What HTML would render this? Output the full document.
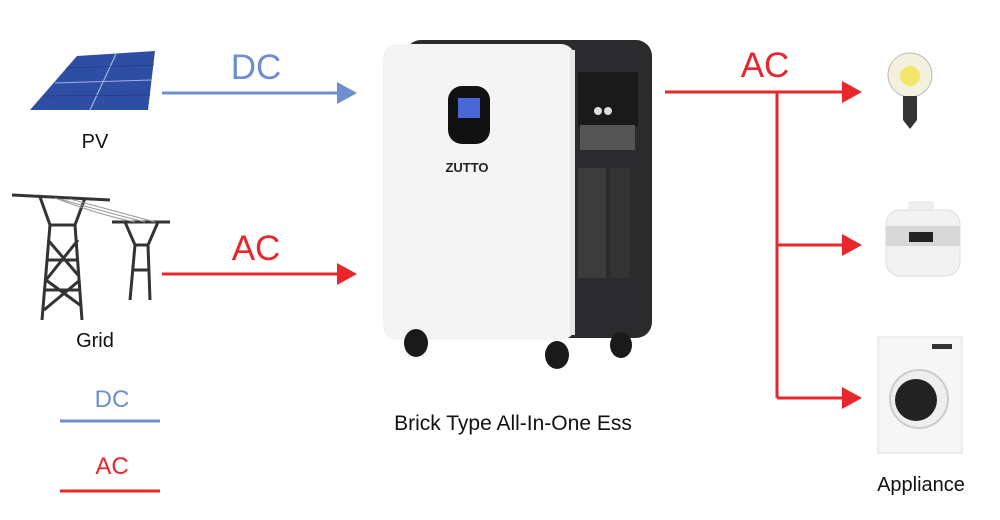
<!DOCTYPE html>
<html><head><meta charset="utf-8"><style>
html,body{margin:0;padding:0;background:#fff;width:1000px;height:520px;overflow:hidden}
svg{display:block}
text{font-family:"Liberation Sans",sans-serif}
</style></head><body>
<svg width="1000" height="520" viewBox="0 0 1000 520" xmlns="http://www.w3.org/2000/svg">
<rect width="1000" height="520" fill="#fff"/>
<!-- PV panel -->
<polygon points="77,56 155,51 148,110 30,110" fill="#2e4ea3"/>
<line x1="116" y1="54" x2="90" y2="110" stroke="#9fb3df" stroke-width="1.2"/>
<line x1="55" y1="83" x2="152" y2="80" stroke="#9fb3df" stroke-width="1"/>
<g stroke="#1d3580" stroke-width="0.6">
<line x1="66" y1="68" x2="154" y2="65"/><line x1="44" y1="96" x2="150" y2="95"/>
</g>
<text x="95" y="148" font-size="20" text-anchor="middle" fill="#111">PV</text>
<!-- DC arrow -->
<line x1="162" y1="93" x2="342" y2="93" stroke="#6d8fd0" stroke-width="3"/>
<polygon points="337,82 357,93 337,104" fill="#6d8fd0"/>
<text x="256" y="79" font-size="35" text-anchor="middle" fill="#6d8fd0">DC</text>
<!-- Grid towers -->
<g stroke="#333" stroke-width="3" fill="none">
<line x1="12" y1="195" x2="110" y2="200"/>
<path d="M40,197 L50,225 L42,320 M85,198 L75,225 L82,320 M50,225 L75,225 M48,260 L78,260 M45,290 L80,290"/>
<path d="M48,240 L78,275 M78,240 L46,280 M46,280 L80,305 M80,280 L44,310"/>
<line x1="112" y1="222" x2="170" y2="222"/>
<path d="M125,222 L135,245 L130,300 M158,222 L148,245 L150,300 M135,245 L148,245 M132,270 L150,270"/>
</g>
<g stroke="#999" stroke-width="1" fill="none">
<path d="M55,198 Q100,215 135,222"/><path d="M60,199 Q105,212 145,222"/><path d="M70,199 Q110,210 155,222"/>
</g>
<text x="95" y="347" font-size="20" text-anchor="middle" fill="#111">Grid</text>
<!-- AC in arrow -->
<line x1="162" y1="274" x2="342" y2="274" stroke="#e8262b" stroke-width="3"/>
<polygon points="337,263 357,274 337,285" fill="#e8262b"/>
<text x="256" y="260" font-size="35" text-anchor="middle" fill="#e8262b">AC</text>
<!-- Legend -->
<text x="112" y="407" font-size="24" text-anchor="middle" fill="#6d8fd0">DC</text>
<line x1="60" y1="421" x2="160" y2="421" stroke="#6d8fd0" stroke-width="3"/>
<text x="112" y="474" font-size="24" text-anchor="middle" fill="#e8262b">AC</text>
<line x1="60" y1="491" x2="160" y2="491" stroke="#e8262b" stroke-width="3"/>
<!-- Device -->
<rect x="405" y="40" width="247" height="298" rx="16" fill="#2b2b2d"/>
<rect x="383" y="44" width="192" height="296" rx="14" fill="#f4f4f4"/>
<rect x="570" y="50" width="5" height="285" fill="#e6e6e6"/>
<rect x="578" y="72" width="60" height="55" fill="#1a1a1a"/>
<circle cx="598" cy="111" r="4" fill="#ddd"/><circle cx="608" cy="111" r="4" fill="#ddd"/>
<rect x="580" y="125" width="55" height="25" fill="#555"/>
<rect x="578" y="168" width="28" height="110" fill="#3c3c3c"/>
<rect x="610" y="168" width="20" height="110" fill="#333"/>
<rect x="448" y="86" width="42" height="58" rx="14" fill="#111"/>
<rect x="458" y="98" width="22" height="20" fill="#4a67d8"/>
<text x="467" y="172" font-size="13" font-weight="bold" text-anchor="middle" fill="#222">ZUTTO</text>
<g fill="#1a1a1a">
<ellipse cx="416" cy="343" rx="12" ry="14"/><ellipse cx="557" cy="355" rx="12" ry="14"/><ellipse cx="621" cy="345" rx="11" ry="13"/>
</g>
<text x="513" y="430" font-size="21" text-anchor="middle" fill="#111">Brick Type All-In-One Ess</text>
<!-- Output -->
<g stroke="#e8262b" stroke-width="3">
<line x1="665" y1="92" x2="847" y2="92"/>
<line x1="777" y1="92" x2="777" y2="398"/>
<line x1="777" y1="245" x2="847" y2="245"/>
<line x1="777" y1="398" x2="847" y2="398"/>
</g>
<g fill="#e8262b">
<polygon points="842,81 862,92 842,103"/><polygon points="842,234 862,245 842,256"/><polygon points="842,387 862,398 842,409"/>
</g>
<text x="765" y="77" font-size="35" text-anchor="middle" fill="#e8262b">AC</text>
<!-- Bulb -->
<circle cx="910" cy="75" r="22" fill="#f3f1de" stroke="#bbb"/>
<circle cx="910" cy="76" r="10" fill="#f2e66a"/>
<path d="M903,96 L917,96 L917,120 L910,129 L903,120Z" fill="#333"/>
<!-- Cooker -->
<rect x="886" y="210" width="74" height="66" rx="14" fill="#f2f2f2" stroke="#ddd"/>
<rect x="886" y="226" width="74" height="20" fill="#d8d8d8"/>
<rect x="909" y="232" width="24" height="10" fill="#222"/>
<rect x="908" y="201" width="26" height="9" rx="3" fill="#eee"/>
<!-- Washer -->
<rect x="878" y="337" width="84" height="116" fill="#f6f6f6" stroke="#ddd"/>
<circle cx="919" cy="399" r="29" fill="#eee" stroke="#ccc" stroke-width="2"/>
<circle cx="916" cy="400" r="21" fill="#222"/>
<rect x="932" y="344" width="20" height="5" fill="#333"/>
<text x="921" y="491" font-size="20" text-anchor="middle" fill="#111">Appliance</text>
</svg>
</body></html>
